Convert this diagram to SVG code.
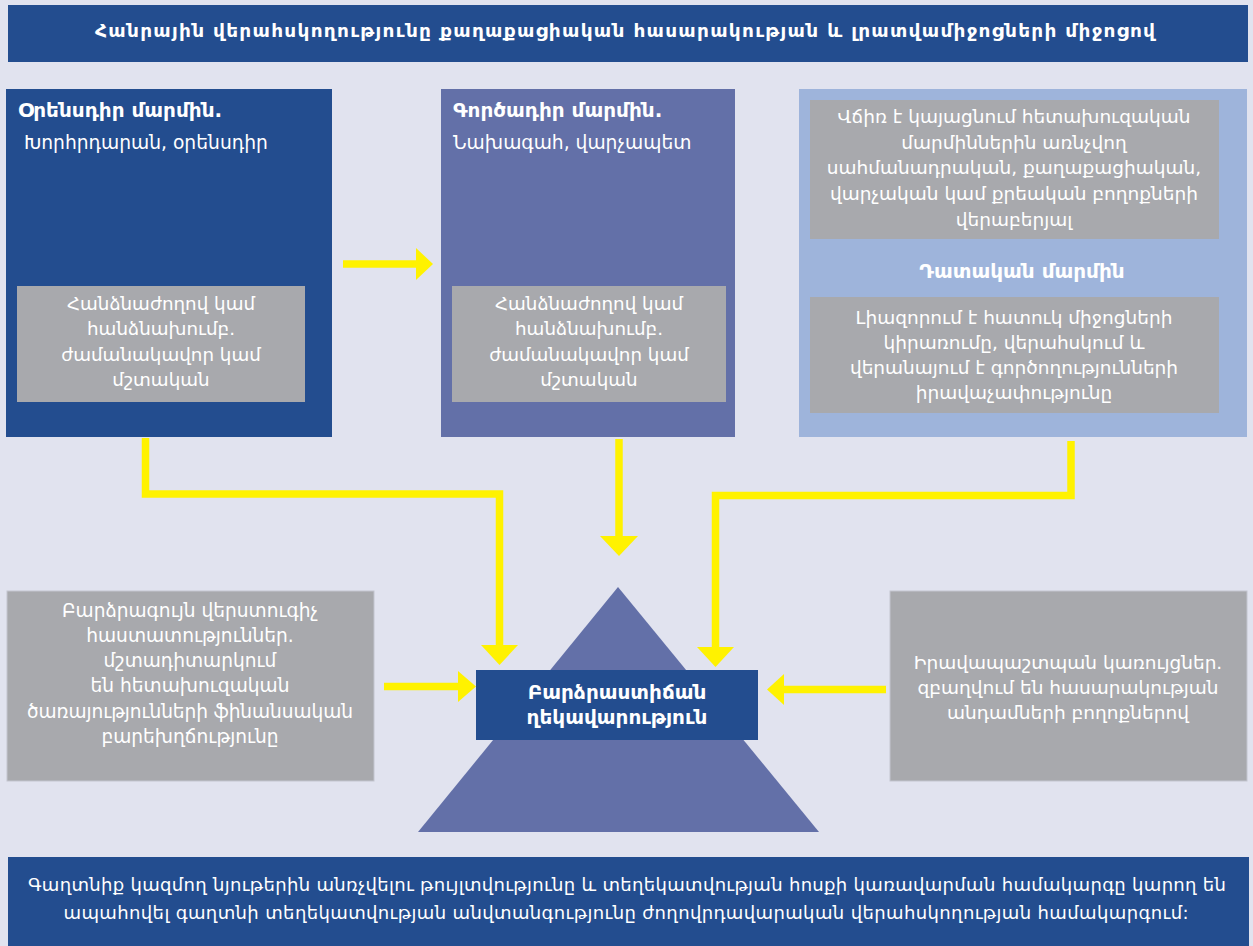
<svg xmlns="http://www.w3.org/2000/svg" width="1253" height="946" viewBox="0 0 1253 946">
<defs>
<style>
.t{font-family:"DejaVu Sans","Noto Sans",sans-serif;fill:#ffffff;}
.b{font-weight:bold;}
.c{text-anchor:middle;}
.dark{fill:#234D8F;}
.mid{fill:#6370A8;}
.light{fill:#9EB4DB;}
.gray{fill:#A8A9AD;}
.grayb{fill:#A8A9AD;stroke:#C3C5CF;stroke-width:1;}
.line{fill:none;stroke:#FFF200;stroke-width:7.5;}
.head{fill:#FFF200;}
</style>
</defs>
<rect x="0" y="0" width="1253" height="946" fill="#E1E3EF"/>

<g id="title">
<rect x="8" y="5" width="1240" height="57" class="dark"/>
<text class="t b c" x="625" y="37" font-size="18.5" textLength="1060">Հանրային վերահսկողությունը քաղաքացիական հասարակության և լրատվամիջոցների  միջոցով</text>
</g>

<g id="legislative">
<rect x="6" y="89" width="326" height="348" class="dark"/>
<text class="t b" x="18" y="117" font-size="20">Օրենսդիր մարմին.</text>
<text class="t" x="24" y="149" font-size="18.7">Խորհրդարան, օրենսդիր</text>
<rect x="17" y="286" width="288" height="116" class="gray"/>
<text class="t c" x="161" y="310" font-size="18.3">Հանձնաժողով կամ</text>
<text class="t c" x="161" y="335" font-size="18.3">հանձնախումբ.</text>
<text class="t c" x="161" y="361" font-size="18.3">ժամանակավոր կամ</text>
<text class="t c" x="161" y="386" font-size="18.3">մշտական</text>
</g>

<g id="executive">
<rect x="441" y="89" width="294" height="348" class="mid"/>
<text class="t b" x="453" y="117" font-size="20">Գործադիր մարմին.</text>
<text class="t" x="453" y="149" font-size="18.7">Նախագահ, վարչապետ</text>
<rect x="452" y="286" width="274" height="116" class="gray"/>
<text class="t c" x="589" y="310" font-size="18.3">Հանձնաժողով կամ</text>
<text class="t c" x="589" y="335" font-size="18.3">հանձնախումբ.</text>
<text class="t c" x="589" y="361" font-size="18.3">ժամանակավոր կամ</text>
<text class="t c" x="589" y="386" font-size="18.3">մշտական</text>
</g>

<g id="judicial">
<rect x="799" y="89" width="448" height="348" class="light"/>
<rect x="810" y="100" width="409" height="139" class="gray"/>
<text class="t c" x="1014" y="123" font-size="18.5">Վճիռ է կայացնում հետախուզական</text>
<text class="t c" x="1014" y="149" font-size="18.5">մարմիններին առնչվող</text>
<text class="t c" x="1014" y="174" font-size="18.5">սահմանադրական, քաղաքացիական,</text>
<text class="t c" x="1014" y="200" font-size="18.5">վարչական կամ քրեական բողոքների</text>
<text class="t c" x="1014" y="226" font-size="18.5">վերաբերյալ</text>
<text class="t b c" x="1022" y="278" font-size="20">Դատական մարմին</text>
<rect x="810" y="297" width="409" height="116" class="gray"/>
<text class="t c" x="1014" y="324" font-size="18.5">Լիազորում է հատուկ միջոցների</text>
<text class="t c" x="1014" y="349" font-size="18.5">կիրառումը, վերահսկում և</text>
<text class="t c" x="1014" y="374" font-size="18.5">վերանայում է գործողությունների</text>
<text class="t c" x="1014" y="399" font-size="18.5">իրավաչափությունը</text>
</g>

<g id="pyramid">
<polygon points="618,587 819,832 418,832" class="mid"/>
</g>

<g id="leadership">
<rect x="476" y="670" width="282" height="70" class="dark"/>
<text class="t b c" x="617" y="699" font-size="20">Բարձրաստիճան</text>
<text class="t b c" x="617" y="724" font-size="20">ղեկավարություն</text>
</g>

<g id="auditors">
<rect x="7" y="591" width="367" height="190" class="grayb"/>
<text class="t c" x="190" y="617" font-size="18.6">Բարձրագույն վերստուգիչ</text>
<text class="t c" x="190" y="642" font-size="18.6">հաստատություններ.</text>
<text class="t c" x="190" y="667" font-size="18.6">մշտադիտարկում</text>
<text class="t c" x="190" y="692" font-size="18.6">են հետախուզական</text>
<text class="t c" x="190" y="718" font-size="18.6" textLength="326">ծառայությունների ֆինանսական</text>
<text class="t c" x="190" y="743" font-size="18.6">բարեխղճությունը</text>
</g>

<g id="ombudsman">
<rect x="890" y="591" width="357" height="190" class="grayb"/>
<text class="t c" x="1068" y="669" font-size="18.5">Իրավապաշտպան կառույցներ.</text>
<text class="t c" x="1068" y="694" font-size="18.5">զբաղվում են հասարակության</text>
<text class="t c" x="1068" y="719" font-size="18.5">անդամների բողոքներով</text>
</g>

<g id="footer">
<rect x="8" y="857" width="1241" height="89" class="dark"/>
<text class="t c" x="627" y="891" font-size="18" textLength="1198">Գաղտնիք կազմող նյութերին անռչվելու թույլտվությունը և տեղեկատվության հոսքի կառավարման համակարգը կարող են</text>
<text class="t c" x="626" y="919" font-size="18" textLength="1125">ապահովել  գաղտնի տեղեկատվության անվտանգությունը ժողովրդավարական վերահսկողության համակարգում:</text>
</g>

<g id="connectors">
<line x1="343" y1="264" x2="417" y2="264" class="line"/>
<polygon points="416,248 433,264 416,280" class="head"/>
<polyline points="145.5,438 145.5,494 499.5,494 499.5,646" class="line"/>
<polygon points="481,645 518,645 499.5,665" class="head"/>
<line x1="619" y1="439" x2="619" y2="537" class="line"/>
<polygon points="600,536 638,536 619,556" class="head"/>
<polyline points="1071,441 1071,495.5 715.5,495.5 715.5,648" class="line"/>
<polygon points="697,647 734,647 715.5,667" class="head"/>
<line x1="384" y1="686.5" x2="459" y2="686.5" class="line"/>
<polygon points="458,671 476,686.5 458,702" class="head"/>
<line x1="886" y1="689.5" x2="783" y2="689.5" class="line"/>
<polygon points="784,674 767,689.5 784,705" class="head"/>
</g>
</svg>
